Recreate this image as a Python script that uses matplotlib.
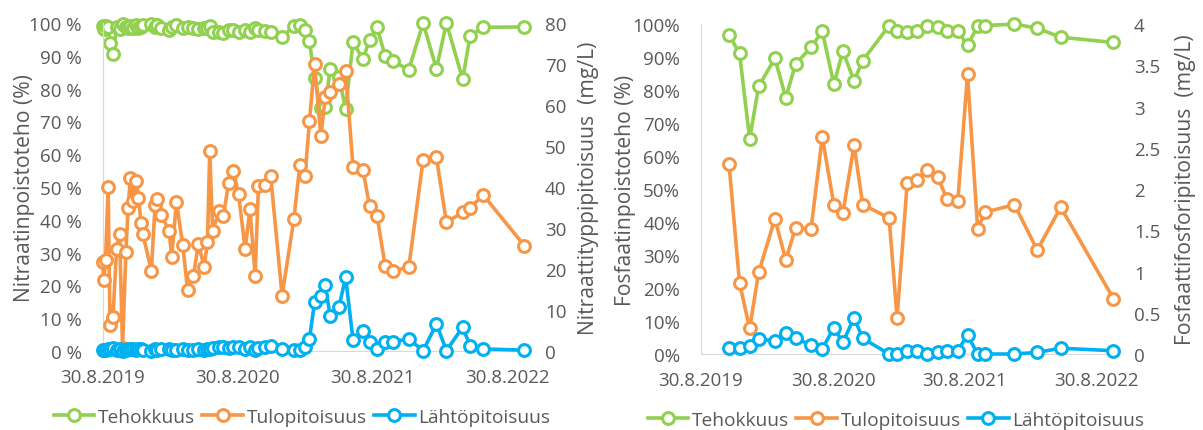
import numpy as np
import pandas as pd
import matplotlib
matplotlib.use("Agg")
import matplotlib.pyplot as plt

plt.rcParams['font.family'] = ['Open Sans', 'DejaVu Sans']

GREEN = '#92D050'
ORANGE = '#F79646'
BLUE = '#00B0F0'
GREY = '#595959'
SPINE = '#D9D9D9'

# ---------------- Nitrate (left panel) -----------------
no3_dates = ['2019-08-30', '2019-09-02', '2019-09-07', '2019-09-14', '2019-09-19',
             '2019-09-27', '2019-10-07', '2019-10-15', '2019-10-23', '2019-11-01',
             '2019-11-07', '2019-11-13', '2019-11-20', '2019-11-29', '2019-12-05',
             '2019-12-12', '2019-12-17', '2020-01-09', '2020-01-19', '2020-01-25',
             '2020-02-05', '2020-02-26', '2020-03-04', '2020-03-17', '2020-04-03',
             '2020-04-16', '2020-05-02', '2020-05-15', '2020-05-31', '2020-06-09',
             '2020-06-15', '2020-06-23', '2020-07-11', '2020-07-22', '2020-08-05',
             '2020-08-18', '2020-09-01', '2020-09-19', '2020-10-02', '2020-10-16',
             '2020-10-25', '2020-11-12', '2020-11-27', '2020-12-28', '2021-01-29',
             '2021-02-14', '2021-02-28', '2021-03-12', '2021-03-26', '2021-04-12',
             '2021-04-24', '2021-05-07', '2021-05-31', '2021-06-18', '2021-07-08',
             '2021-08-04', '2021-08-22', '2021-09-11', '2021-10-03', '2021-10-24',
             '2021-12-06', '2022-01-14', '2022-02-19', '2022-03-18', '2022-05-01',
             '2022-05-21', '2022-06-26', '2022-10-15']
no3_eff = [99.1, 98.3, 99.0, 98.9, 94.0, 90.6, 98.8, 98.2, 99.6, 98.7,
           98.6, 99.0, 98.4, 99.3, 98.4, 98.7, 99.3, 99.6, 98.9, 99.5,
           98.5, 98.0, 98.7, 99.4, 98.5, 98.7, 98.4, 98.1, 98.5, 98.5,
           99.0, 97.3, 97.4, 97.0, 98.0, 98.0, 97.4, 98.0, 97.4, 98.4,
           98.0, 97.5, 97.4, 95.6, 99.2, 99.3, 98.0, 94.6, 83.1, 74.0,
           74.3, 86.0, 83.4, 73.8, 94.1, 89.0, 94.9, 98.7, 90.0, 88.3,
           85.8, 100.0, 86.0, 100.0, 82.9, 96.0, 98.7, 98.8]
no3_in = [21.6, 17.2, 22.2, 39.9, 6.4, 8.4, 24.9, 28.5, 0.8, 24.1,
          34.8, 42.2, 36.5, 41.5, 37.4, 31.2, 28.5, 19.6, 35.5, 37.0,
          33.2, 29.3, 23.0, 36.3, 25.9, 14.9, 18.2, 26.1, 20.6, 26.5,
          48.7, 29.3, 34.2, 32.9, 40.9, 44.0, 38.3, 24.9, 34.6, 18.4,
          40.3, 40.5, 42.8, 13.5, 32.2, 45.4, 42.6, 56.0, 70.0, 52.4,
          61.9, 63.1, 65.1, 68.4, 45.0, 44.2, 35.3, 33.0, 20.8, 19.6,
          20.4, 46.7, 47.2, 31.4, 33.8, 35.0, 38.0, 25.7]
no3_out = [0.2, 0.3, 0.2, 0.4, 0.4, 0.8, 0.3, 0.5, 0.0, 0.3,
           0.5, 0.4, 0.6, 0.3, 0.6, 0.4, 0.2, 0.1, 0.4, 0.2,
           0.5, 0.6, 0.3, 0.2, 0.4, 0.2, 0.3, 0.5, 0.3, 0.4,
           0.5, 0.8, 0.9, 1.0, 0.8, 0.9, 1.0, 0.5, 0.9, 0.3,
           0.8, 1.0, 1.1, 0.6, 0.2, 0.3, 0.9, 2.9, 11.9, 13.5,
           16.1, 8.6, 10.7, 18.0, 2.8, 4.8, 2.1, 0.5, 2.1, 2.3,
           2.9, 0.1, 6.6, 0.1, 5.8, 1.3, 0.5, 0.2]

# ---------------- Phosphate (right panel) -----------------
po4_dates = ['2019-11-16', '2019-12-15', '2020-01-12', '2020-02-06', '2020-03-22',
             '2020-04-21', '2020-05-18', '2020-06-30', '2020-07-31', '2020-09-01',
             '2020-09-26', '2020-10-27', '2020-11-20', '2021-02-01', '2021-02-23',
             '2021-03-23', '2021-04-19', '2021-05-16', '2021-06-16', '2021-07-11',
             '2021-08-10', '2021-09-06', '2021-10-04', '2021-10-25', '2022-01-14',
             '2022-03-18', '2022-05-22', '2022-10-15']
po4_eff = [96.7, 91.1, 65.2, 81.1, 89.6, 77.6, 87.9, 92.9, 97.8, 81.8,
           91.7, 82.8, 88.9, 99.5, 98.0, 97.7, 97.8, 99.5, 99.0, 97.8,
           97.8, 93.6, 99.3, 99.5, 100.0, 98.7, 96.0, 94.4]
po4_in = [2.30, 0.86, 0.31, 0.99, 1.64, 1.14, 1.53, 1.52, 2.63, 1.81,
          1.71, 2.53, 1.81, 1.65, 0.44, 2.07, 2.11, 2.23, 2.14, 1.88,
          1.85, 3.39, 1.52, 1.72, 1.81, 1.26, 1.78, 0.67]
po4_out = [0.07, 0.07, 0.10, 0.18, 0.16, 0.25, 0.19, 0.11, 0.06, 0.32,
           0.14, 0.44, 0.19, 0.0, 0.0, 0.04, 0.04, 0.0, 0.02, 0.04,
           0.04, 0.23, 0.0, 0.0, 0.0, 0.02, 0.07, 0.04]

xtick_dates = ['2019-08-30', '2020-08-30', '2021-08-30', '2022-08-30']
xtick_labels = ['30.8.2019', '30.8.2020', '30.8.2021', '30.8.2022']
series_names = ['Tehokkuus', 'Tulopitoisuus', 'Lähtöpitoisuus']
x_start, x_end = '2019-08-30', '2022-10-22'

TICK_FS = 13.5
LABEL_FS = 15.2
LEGEND_FS = 13.8


def panel(fig, rect, dates, eff, c_in, c_out, left_label, right_label,
          pct_fmt, right_ticks, left_lab_x, right_lab_x):
    ax = fig.add_axes(rect)
    ax2 = ax.twinx()
    d = pd.to_datetime(dates)
    style = dict(marker='o', ms=8.5, mfc='white', mew=2.2, lw=2.6, clip_on=False)
    l1, = ax.plot(d, eff, color=GREEN, **style)
    l2, = ax2.plot(d, c_in, color=ORANGE, **style)
    l3, = ax2.plot(d, c_out, color=BLUE, **style)

    ax.set_xlim(pd.Timestamp(x_start), pd.Timestamp(x_end))
    ax.set_ylim(0, 100)
    ax.set_yticks(np.arange(0, 101, 10))
    ax.set_yticklabels([pct_fmt.format(v) for v in range(0, 101, 10)])
    ax2.set_ylim(right_ticks[0], right_ticks[-1])
    ax2.set_yticks(right_ticks)
    ax2.set_yticklabels([f'{v:g}' for v in right_ticks])
    ax.set_xticks(pd.to_datetime(xtick_dates))
    ax.set_xticklabels(xtick_labels)

    for a in (ax, ax2):
        for s in a.spines.values():
            s.set_visible(False)
        a.tick_params(length=0, labelsize=TICK_FS, labelcolor=GREY)
    for side in ('left', 'bottom'):
        ax.spines[side].set_visible(True)
        ax.spines[side].set_color(SPINE)
    ax.tick_params(axis='y', pad=15)
    ax.tick_params(axis='x', pad=12)
    ax2.tick_params(axis='y', pad=13)

    ax.set_ylabel(left_label, fontsize=LABEL_FS, color=GREY)
    ax2.set_ylabel(right_label, fontsize=LABEL_FS, color=GREY)
    ax.yaxis.set_label_coords(left_lab_x, 0.5)
    ax2.yaxis.set_label_coords(right_lab_x, 0.5)

    ax.legend([l1, l2, l3], series_names, loc='center', bbox_to_anchor=(0.47, -0.2),
              ncol=3, frameon=False, fontsize=LEGEND_FS, labelcolor=GREY,
              handlelength=2.1, handletextpad=0.2, columnspacing=0.4)
    return ax, ax2


fig = plt.figure(figsize=(12.03, 4.31), dpi=100)

panel(fig, [0.0853, 0.1833, 0.3527, 0.7610], no3_dates, no3_eff, no3_in, no3_out,
      'Nitraatinpoistoteho (%)', 'Nitraattityppipitoisuus  (mg/L)',
      '{} %', np.arange(0, 81, 10), -0.159, 1.120)

panel(fig, [0.5826, 0.1763, 0.3451, 0.7657], po4_dates, po4_eff, po4_in, po4_out,
      'Fosfaatinpoistoteho (%)', 'Fosfaattifosforipitoisuus  (mg/L)',
      '{}%', np.arange(0, 4.01, 0.5), -0.156, 1.142)

fig.savefig('out.png', dpi=100)
